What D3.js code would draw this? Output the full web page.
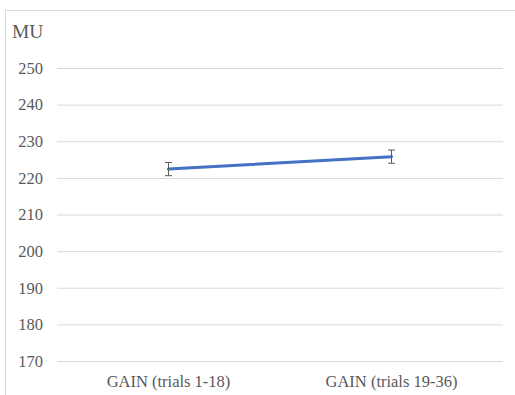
<!DOCTYPE html>
<html><head><meta charset="utf-8">
<script src="https://cdn.jsdelivr.net/npm/d3@7"></script>
</head><body style="margin:0">
<script>
const categories = ["GAIN (trials 1-18)", "GAIN (trials 19-36)"];
const values = [222.4, 225.8];
const errors = [1.8, 1.8];
const yTicks = [170, 180, 190, 200, 210, 220, 230, 240, 250];
const yTitle = "MU";

const W = 515, H = 395;
const FONT = "Times New Roman, Liberation Serif, serif";
const svg = d3.select("body").append("svg").attr("width", W).attr("height", H)
  .style("display", "block");
svg.append("rect").attr("x", 5.5).attr("y", 10.5).attr("width", 520).attr("height", 400)
  .attr("fill", "#fff").attr("stroke", "#d9d9d9");

const x = d3.scaleBand().domain(categories).range([57, 503]);
const y = d3.scaleLinear().domain([170, 250]).range([361, 68]);

const yAxis = svg.append("g").attr("transform", "translate(57,0)")
  .call(d3.axisLeft(y).tickValues(yTicks).tickSize(-446).tickPadding(14).tickFormat(d3.format("d")));
yAxis.attr("font-family", FONT).attr("font-size", 16.5);
yAxis.select(".domain").remove();
yAxis.selectAll(".tick line").attr("stroke", "#d9d9d9");
yAxis.selectAll(".tick text").attr("fill", "#595959");

const xAxis = svg.append("g").attr("transform", "translate(0,361)")
  .call(d3.axisBottom(x).tickSize(0).tickPadding(14));
xAxis.attr("font-family", FONT).attr("font-size", 16.5);
xAxis.select(".domain").remove();
xAxis.selectAll(".tick text").attr("fill", "#595959");

svg.append("text").attr("x", 12).attr("y", 38).text(yTitle)
  .attr("fill", "#595959").attr("font-family", FONT).attr("font-size", 19.5);

const cx = d => x(d) + x.bandwidth() / 2;
const data = categories.map((c, i) => ({c, v: values[i], e: errors[i]}));

svg.append("path").datum(data)
  .attr("d", d3.line().x(d => cx(d.c)).y(d => y(d.v)))
  .attr("fill", "none").attr("stroke", "#4472C4").attr("stroke-width", 3).attr("stroke-linecap", "round");

const eb = svg.append("g").attr("stroke", "#595959").attr("stroke-width", 1);
data.forEach(d => {
  const X = cx(d.c);
  eb.append("line").attr("x1", X).attr("x2", X).attr("y1", y(d.v + d.e)).attr("y2", y(d.v - d.e));
  eb.append("line").attr("x1", X - 3.5).attr("x2", X + 3.5).attr("y1", y(d.v + d.e)).attr("y2", y(d.v + d.e));
  eb.append("line").attr("x1", X - 3.5).attr("x2", X + 3.5).attr("y1", y(d.v - d.e)).attr("y2", y(d.v - d.e));
});
</script>
</body></html>
